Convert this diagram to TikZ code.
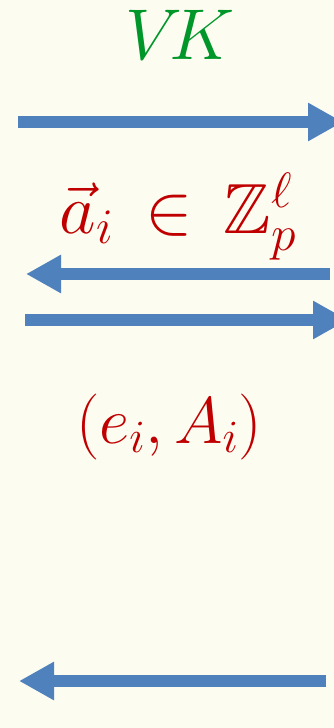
\documentclass[tikz,border=0pt]{standalone}
\usepackage{fix-cm}
\usepackage{amsmath}
\usepackage{amssymb}
\usetikzlibrary{arrows.meta, positioning}
\definecolor{msgblue}{HTML}{4F81BD}
\definecolor{msgred}{HTML}{C00000}
\definecolor{msggreen}{HTML}{00962A}
\definecolor{msgpaper}{HTML}{FCFCF0}

\begin{document}
\begin{tikzpicture}[
    x=1pt,
    y=-1pt,
    msg/.style={-{Triangle[length=35pt, width=36pt]}, line width=12pt, draw=msgblue},
    label/.style={anchor=base, inner sep=0pt, font=\fontsize{66}{76}\selectfont}
  ]
  \fill[msgpaper] (0,0) rectangle (334,728);
  \useasboundingbox (0,0) rectangle (334,728);
  % verification key
  \node[label, text=msggreen, font=\fontsize{72}{80}\selectfont] (vk) at (180,59) {$V\!K$};
  \coordinate (vkfrom) at (18,122);
  \coordinate (vkto) at (343,122);
  \draw[msg] (vkfrom) -- (vkto);
  % challenge
  \node[label, text=msgred, font=\fontsize{71}{80}\selectfont] (chal) at (178,233)
    {$\vec{a}_i \mathrel{\,\in\,} \mathbb{Z}_p^{\ell}$};
  \coordinate (chfrom) at (330,274);
  \coordinate (chto) at (26,274);
  \draw[msg] (chfrom) -- (chto);
  \coordinate (rsfrom) at (25,320);
  \coordinate (rsto) at (348,320);
  \draw[msg] (rsfrom) -- (rsto);
  % response
  \node[label, text=msgred] (resp) at (169,443) {$(e_i, A_i)$};
  \coordinate (lastfrom) at (326,681);
  \coordinate (lastto) at (19,681);
  \draw[msg] (lastfrom) -- (lastto);
\end{tikzpicture}
\end{document}
